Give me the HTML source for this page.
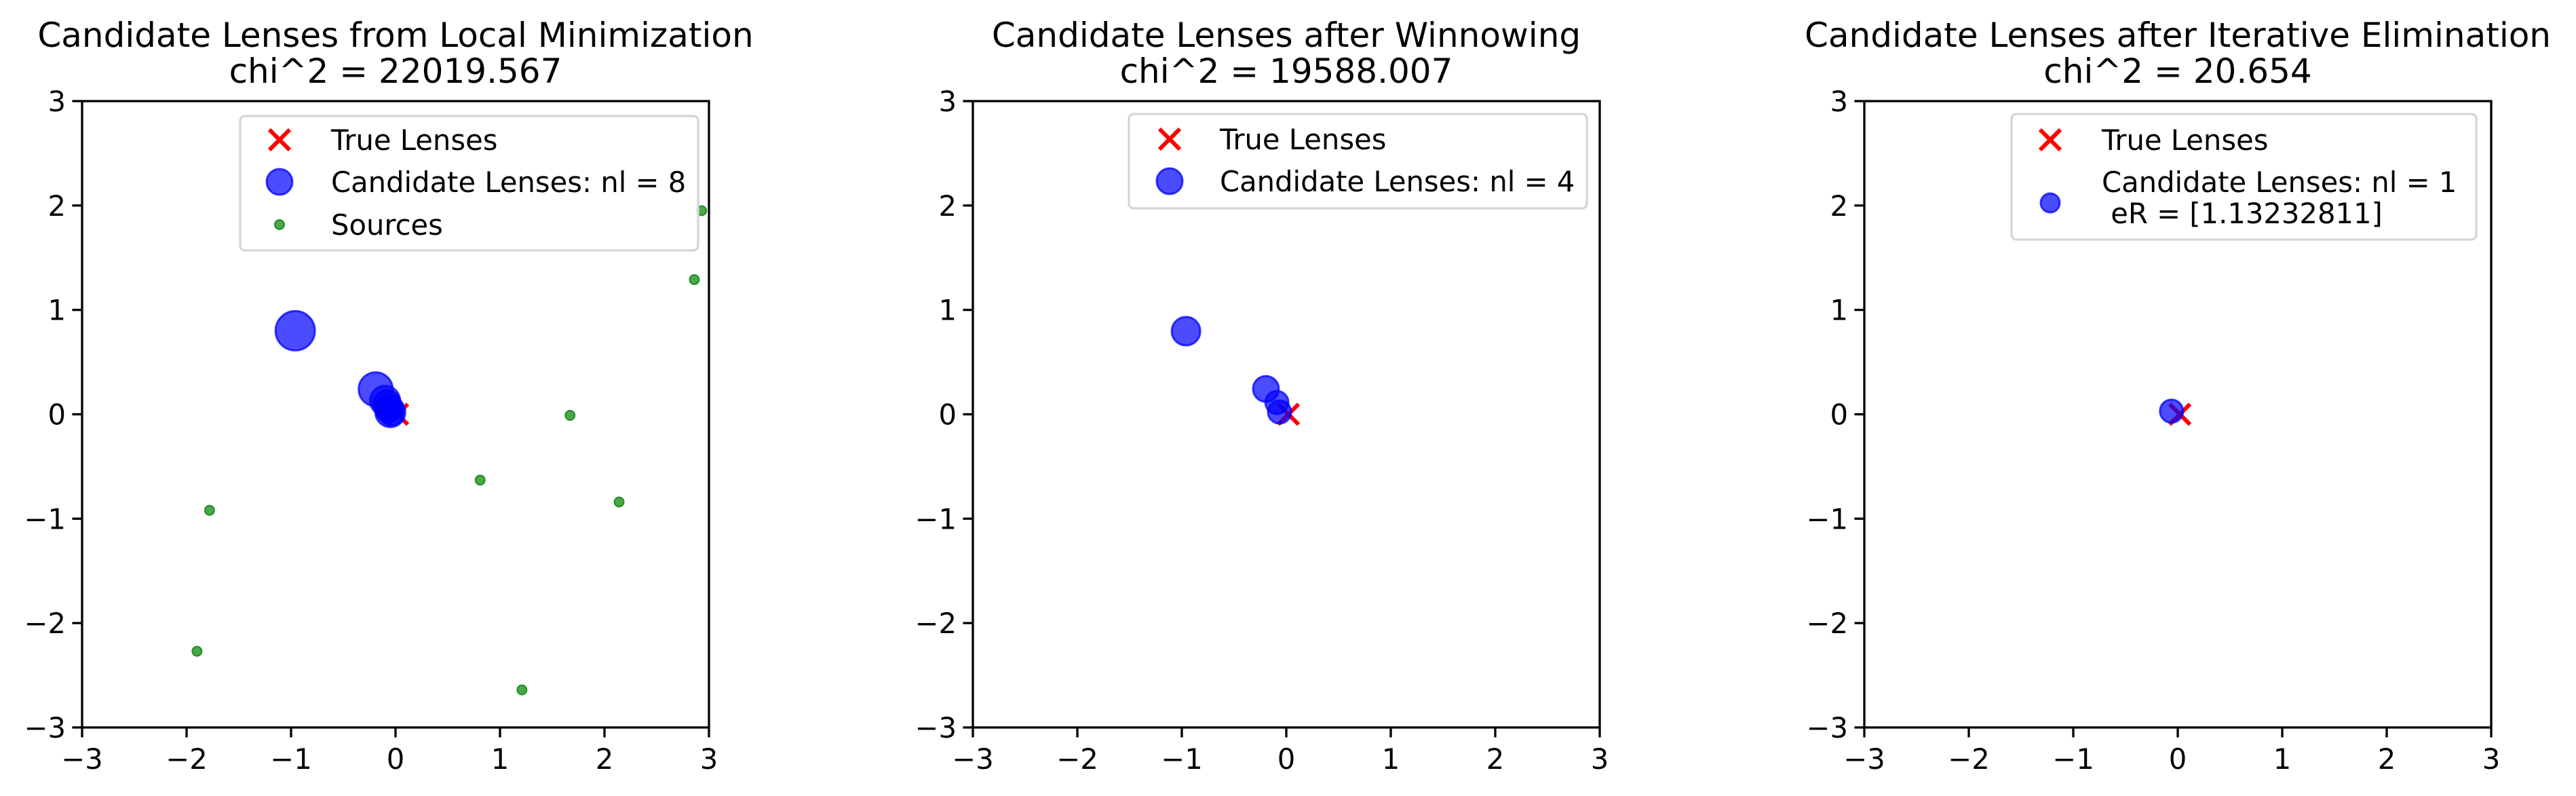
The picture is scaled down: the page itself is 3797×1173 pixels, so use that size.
<!DOCTYPE html>
<html><head><meta charset="utf-8"><style>
html,body{margin:0;padding:0;background:#fff;}
svg{display:block;font-family:"DejaVu Sans","Liberation Sans",sans-serif;}
</style></head><body>
<svg id="fig" width="3797" height="1173" xmlns="http://www.w3.org/2000/svg"></svg>
<script>
const ticks = [-3,-2,-1,0,1,2,3];
const titles1 = ["Candidate Lenses from Local Minimization","Candidate Lenses after Winnowing","Candidate Lenses after Iterative Elimination"];
const titles2 = ["chi^2 = 22019.567","chi^2 = 19588.007","chi^2 = 20.654"];
const trueX = [0.02];
const trueY = [0.0];
const lens1X = [-0.96,-0.19,-0.1,-0.08,-0.06,-0.05,-0.04,-0.07];
const lens1Y = [0.8,0.24,0.13,0.1,0.06,0.02,0.01,0.04];
const lens1R = [29,25,22,20,20,22,18,18];
const lens2X = [-0.96,-0.195,-0.09,-0.065];
const lens2Y = [0.796,0.243,0.113,0.022];
const lens2R = [21,19,17,17];
const lens3X = [-0.06];
const lens3Y = [0.03];
const lens3R = [17];
const srcX = [2.93,2.86,1.67,0.81,2.14,-1.78,-1.9,1.21];
const srcY = [1.95,1.29,-0.01,-0.63,-0.84,-0.92,-2.27,-2.64];

const NS="http://www.w3.org/2000/svg";
const svg=document.getElementById('fig');
function mk(tag,attrs,parent){const e=document.createElementNS(NS,tag);for(const k in attrs)e.setAttribute(k,attrs[k]);(parent||svg).appendChild(e);return e;}
const lefts=[121,1434,2748];
const W=924, TOP=149, H=923;
const lensSets=[[lens1X,lens1Y,lens1R],[lens2X,lens2Y,lens2R],[lens3X,lens3Y,lens3R]];

for(let p=0;p<3;p++){
  const L=lefts[p];
  const sx=v=>L+(v+3)/6*W;
  const sy=v=>TOP+(3-v)/6*H;
  const g=mk('g',{});
  
  
  const t=mk('text',{x:L+W/2,y:69,'font-size':50,'text-anchor':'middle'},g);
  t.textContent=titles1[p];
  
  
  const t2=mk('text',{x:L+W/2,y:122,'font-size':50,'text-anchor':'middle'},g);
  t2.textContent=titles2[p];
  
  
  if(p===0){
    for(let i=0;i<srcX.length;i++){
      const c=mk('circle',{cx:sx(srcX[i]),cy:sy(srcY[i]),r:7,fill:'rgba(0,128,0,0.7)',stroke:'rgba(0,128,0,0.8)','stroke-width':2},g);
      
      
    }
  }
  for(let i=0;i<trueX.length;i++){
    const cx=sx(trueX[i]),cy=sy(trueY[i]);
    const m=mk('path',{d:`M${cx-15} ${cy-15}L${cx+15} ${cy+15}M${cx-15} ${cy+15}L${cx+15} ${cy-15}`,stroke:'#f00','stroke-width':6},g);
    
    
  }
  const [lx,ly,lr]=lensSets[p];
  for(let i=0;i<lx.length;i++){
    const c=mk('circle',{cx:sx(lx[i]),cy:sy(ly[i]),r:lr[i],fill:'rgba(0,0,255,0.7)',stroke:'rgba(0,0,255,0.75)','stroke-width':3},g);
    
    
  }
  const fr=mk('rect',{x:L,y:TOP,width:W,height:H,fill:'none',stroke:'#000','stroke-width':3.3},g);
  
  
  for(const v of ticks){
    mk('line',{x1:sx(v),x2:sx(v),y1:TOP+H,y2:TOP+H+14.6,stroke:'#000','stroke-width':3.3},g);
    const xl=mk('text',{x:sx(v),y:1133,'font-size':41.7,'text-anchor':'middle'},g);
    xl.textContent=(v<0?'\u2212':'')+Math.abs(v);
    
    
    mk('line',{x1:L-14.6,x2:L,y1:sy(v),y2:sy(v),stroke:'#000','stroke-width':3.3},g);
    const yl=mk('text',{x:L-24,y:sy(v)+15,'font-size':41.7,'text-anchor':'end'},g);
    yl.textContent=(v<0?'\u2212':'')+Math.abs(v);
    
    
  }
}
function legend(x0,y0,x1,y1,mx,tx,rows){
  const g=mk('g',{});
  
  
  mk('rect',{x:x0,y:y0,width:x1-x0,height:y1-y0,rx:7,fill:'rgba(255,255,255,0.8)',stroke:'#d5d5d5','stroke-width':3.3},g);
  for(const r of rows){
    if(r.type==='x'){
      mk('path',{d:`M${mx-15} ${r.my-15}L${mx+15} ${r.my+15}M${mx-15} ${r.my+15}L${mx+15} ${r.my-15}`,stroke:'#f00','stroke-width':6},g);
    }else if(r.type==='o'){
      mk('circle',{cx:mx,cy:r.my,r:r.r,fill:'rgba(0,0,255,0.7)',stroke:'rgba(0,0,255,0.75)','stroke-width':3},g);
    }else{
      mk('circle',{cx:mx,cy:r.my,r:7,fill:'rgba(0,128,0,0.7)',stroke:'rgba(0,128,0,0.8)','stroke-width':2},g);
    }
    r.lines.forEach((s,i)=>{
      const t=mk('text',{x:tx,y:r.ty[i],'font-size':41.7,style:'white-space:pre'},g);
      t.textContent=s;
      
      
    });
  }
}
legend(354,171,1029,369,412,488,[
  {type:'x',my:206,lines:['True Lenses'],ty:[221]},
  {type:'o',my:268,r:19,lines:['Candidate Lenses: nl = 8'],ty:[283]},
  {type:'g',my:331,lines:['Sources'],ty:[346]}]);
legend(1664,168,2339,307,1724,1798,[
  {type:'x',my:205,lines:['True Lenses'],ty:[220]},
  {type:'o',my:267,r:19,lines:['Candidate Lenses: nl = 4'],ty:[282]}]);
legend(2965,168,3650,353,3022,3098,[
  {type:'x',my:206,lines:['True Lenses'],ty:[221]},
  {type:'o',my:299,r:14,lines:['Candidate Lenses: nl = 1','\u00a0eR = [1.13232811]'],ty:[283,329]}]);
</script>
</body></html>
